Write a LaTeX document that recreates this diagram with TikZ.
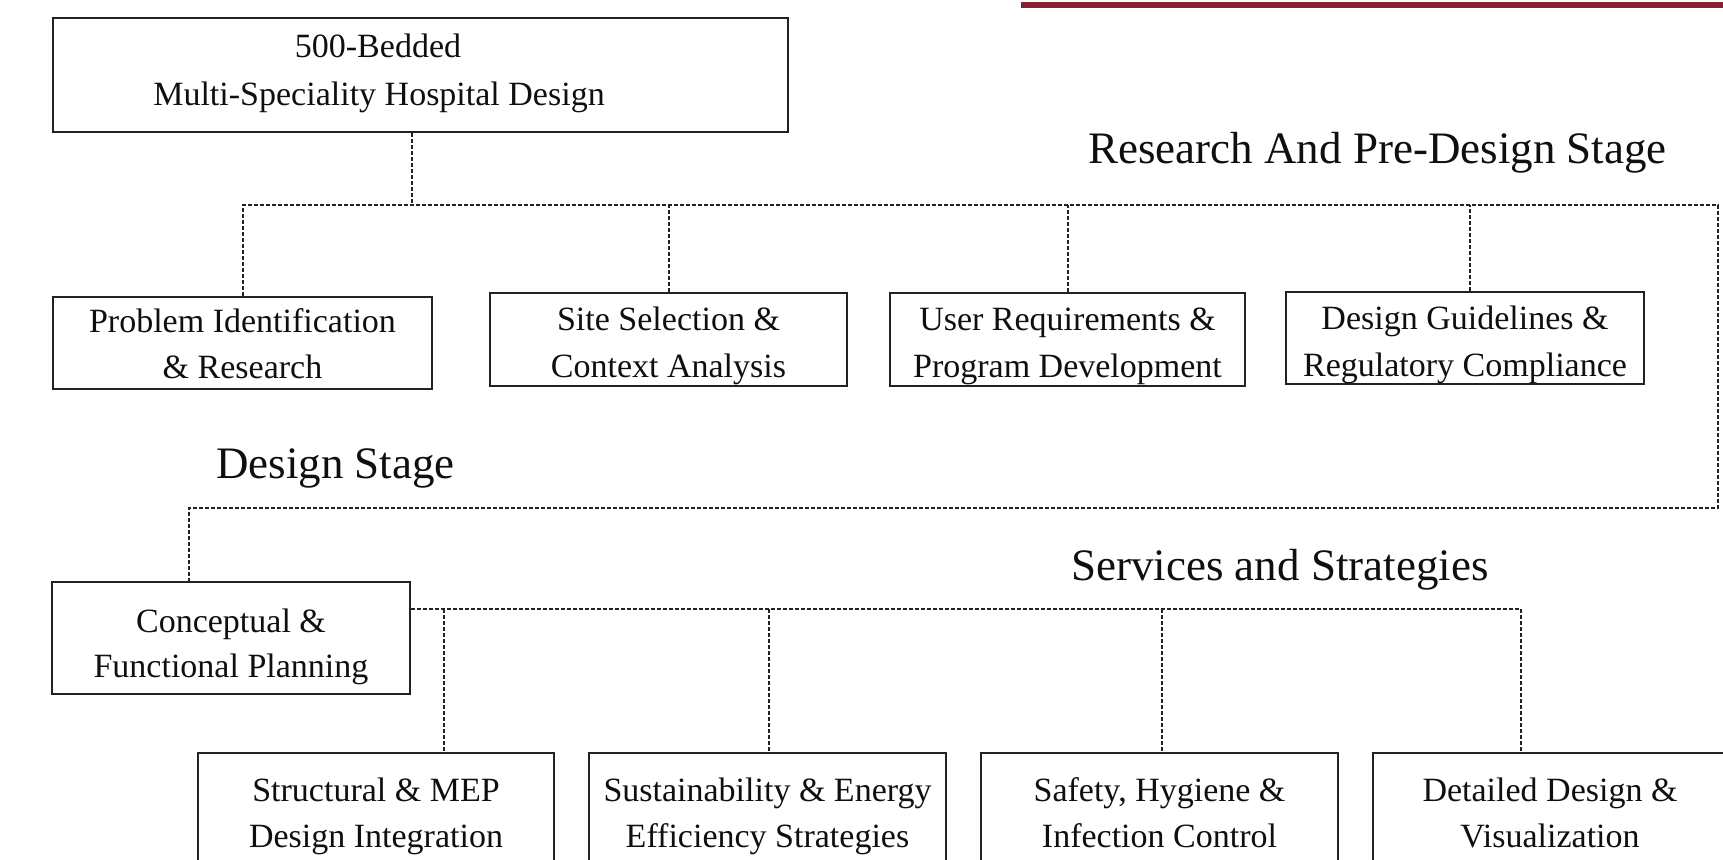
\documentclass[tikz,border=0pt]{standalone}
\usepackage{fontspec}
\setmainfont{Liberation Serif}
\definecolor{boxline}{RGB}{34,34,34}
\definecolor{ink}{RGB}{15,15,15}
\definecolor{accent}{RGB}{130,34,50}
\begin{document}
\begin{tikzpicture}[x=1pt,y=-1pt,
  box/.style={draw=boxline, line width=2.6pt, fill=white, inner sep=0pt},
  txt/.style={anchor=base, inner sep=0pt, font=\fontsize{34}{40}\selectfont, text=ink},
  stage/.style={anchor=base west, inner sep=0pt, font=\fontsize{45}{54}\selectfont, text=ink},
  conn/.style={draw=boxline, line width=2pt, dash pattern=on 4pt off 2pt}]

% page frame
\fill[white] (0,0) rectangle (1723,859);
\clip (0,0) rectangle (1723,859);

% accent rule at the top
\fill[accent] (1021,2) rectangle (1723,8);

% root
\node[box, minimum width=735pt, minimum height=114pt] (top) at (420.5,75) {};
\node[txt] (topa) at (378,58) {500-Bedded};
\node[txt] (topb) at (379,105) {Multi-Speciality Hospital Design};

% research and pre-design stage
\node[box, minimum width=379pt, minimum height=92pt] (b1) at (242.5,343) {};
\node[txt] (b1a) at (242.5,332) {Problem Identification};
\node[txt] (b1b) at (242.5,378) {\& Research};

\node[box, minimum width=357pt, minimum height=93pt] (b2) at (668.5,339.5) {};
\node[txt] (b2a) at (668.5,330) {Site Selection \&};
\node[txt] (b2b) at (668.5,377) {Context Analysis};

\node[box, minimum width=355pt, minimum height=93pt] (b3) at (1067.5,339.5) {};
\node[txt] (b3a) at (1067.5,330) {User Requirements \&};
\node[txt] (b3b) at (1067.5,377) {Program Development};

\node[box, minimum width=358pt, minimum height=92pt] (b4) at (1465,338) {};
\node[txt] (b4a) at (1465,329) {Design Guidelines \&};
\node[txt] (b4b) at (1465,376) {Regulatory Compliance};

% design stage
\node[box, minimum width=358pt, minimum height=112pt] (cp) at (231,638) {};
\node[txt] (cpa) at (231,632) {Conceptual \&};
\node[txt] (cpb) at (231,677) {Functional Planning};

% services and strategies
\node[box, minimum width=356pt, minimum height=127pt] (rA) at (376,816.5) {};
\node[txt] (rAa) at (376,801) {Structural \& MEP};
\node[txt] (rAb) at (376,847) {Design Integration};

\node[box, minimum width=357pt, minimum height=127pt] (rB) at (767.5,816.5) {};
\node[txt] (rBa) at (767.5,801) {Sustainability \& Energy};
\node[txt] (rBb) at (767.5,847) {Efficiency Strategies};

\node[box, minimum width=357pt, minimum height=127pt] (rC) at (1159.5,816.5) {};
\node[txt] (rCa) at (1159.5,801) {Safety, Hygiene \&};
\node[txt] (rCb) at (1159.5,847) {Infection Control};

\node[box, minimum width=354pt, minimum height=127pt] (rD) at (1550,816.5) {};
\node[txt] (rDa) at (1550,801) {Detailed Design \&};
\node[txt] (rDb) at (1550,847) {Visualization};

% stage headings
\node[stage] (h1) at (1088,163) {Research And Pre-Design Stage};
\node[stage] (h2) at (216,478) {Design Stage};
\node[stage] (h3) at (1071,580) {Services and Strategies};

% connector routing points
\coordinate (j0) at (412,205);
\coordinate (nE) at (1718,205);
\coordinate (sE) at (1718,508);
\coordinate (sW) at (189,508);
\coordinate (sa) at (444,609);
\coordinate (sb) at (769,609);
\coordinate (sc) at (1162,609);
\coordinate (sEnd) at (1521,609);

% root to first bus
\draw[conn] (top.south -| j0) -- (j0);
\draw[conn] (b1.north) |- (nE) -- (sE) -- (sW) -- (sW |- cp.north);
\draw[conn] (b2.north) -- (b2.north |- nE);
\draw[conn] (b3.north) -- (b3.north |- nE);
\draw[conn] ([xshift=5pt]b4.north) -- ([xshift=5pt]b4.north |- nE);

% planning to services
\draw[conn] (cp.east |- sEnd) -- (sEnd) -- (sEnd |- rD.north);
\draw[conn] (sa) -- (sa |- rA.north);
\draw[conn] (sb) -- (sb |- rB.north);
\draw[conn] (sc) -- (sc |- rC.north);
\end{tikzpicture}
\end{document}
